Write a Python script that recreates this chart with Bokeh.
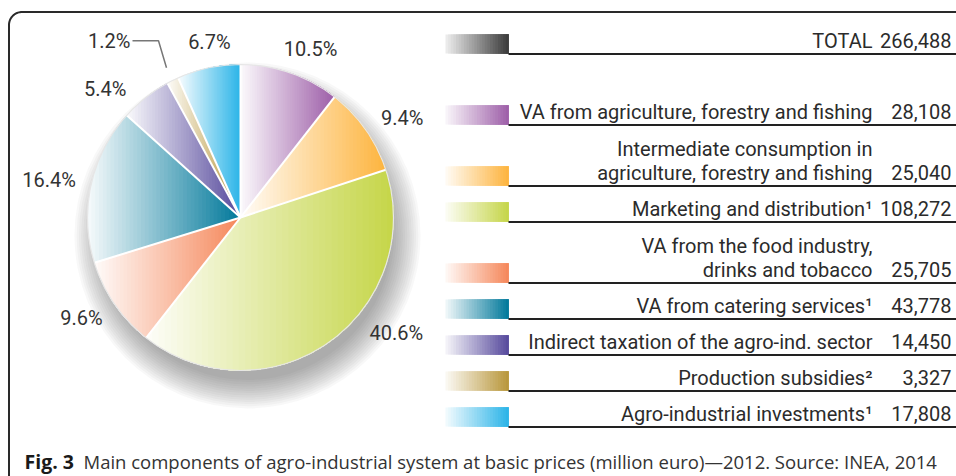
import math
from bokeh.plotting import figure
from bokeh.models import Range1d
from bokeh.core.properties import value
from bokeh.embed import file_html
from bokeh.resources import INLINE

# ---------------- data ----------------
categories = [
    "VA from agriculture, forestry and fishing",
    "Intermediate consumption in\nagriculture, forestry and fishing",
    "Marketing and distribution\u00b9",
    "VA from the food industry,\ndrinks and tobacco",
    "VA from catering services\u00b9",
    "Indirect taxation of the agro-ind. sector",
    "Production subsidies\u00b2",
    "Agro-industrial investments\u00b9",
]
values = [28108, 25040, 108272, 25705, 43778, 14450, 3327, 17808]
total_label = "TOTAL"
total_value = 266488
caption_bold = "Fig. 3"
caption_text = "Main components of agro-industrial system at basic prices (million euro)\u20142012. Source: INEA, 2014"

colors = ["#9d5ea8", "#fdb43e", "#c5d548", "#f5875a", "#00789a", "#56499c", "#b8963a", "#2ab4e8"]
total_color = "#3a3a3a"

# ---------------- layout ----------------
W, H = 956, 476
cx, cy, R = 240, 217, 153
label_offset_deg = [3.5, 3.4, -18.4, 2.3, -1.2, -8.0, 0.0, 2.0]
label_radius = [183, 190, 194, 188, 195, 187, 0, 179]
leader_index = 6
BASE_FIX = 0.33  # alphabetic baseline correction (fraction of font size)

p = figure(width=W, height=H, output_backend="svg", toolbar_location=None,
           x_range=Range1d(0, W), y_range=Range1d(H, 0),
           min_border=0, outline_line_color=None)
p.axis.visible = False
p.grid.visible = False
p.background_fill_color = "white"
p.border_fill_color = "white"


def mix(c, t):
    c = c.lstrip("#")
    r, g, b = int(c[0:2], 16), int(c[2:4], 16), int(c[4:6], 16)
    r = round(255 + (r - 255) * t)
    g = round(255 + (g - 255) * t)
    b = round(255 + (b - 255) * t)
    return "#%02x%02x%02x" % (r, g, b)


def mix2(c1, c2, t):
    a = c1.lstrip("#"); b = c2.lstrip("#")
    out = []
    for i in (0, 2, 4):
        v1 = int(a[i:i + 2], 16); v2 = int(b[i:i + 2], 16)
        out.append(round(v1 + (v2 - v1) * t))
    return "#%02x%02x%02x" % tuple(out)


def polar(theta_deg, r):
    t = math.radians(theta_deg)
    return cx + r * math.sin(t), cy - r * math.cos(t)


def clip_right_of(xs, ys, a):
    ox, oy = [], []
    n = len(xs)
    for i in range(n):
        x1, y1 = xs[i], ys[i]
        x2, y2 = xs[(i + 1) % n], ys[(i + 1) % n]
        in1, in2 = x1 >= a, x2 >= a
        if in1:
            ox.append(x1); oy.append(y1)
        if in1 != in2:
            t = (a - x1) / (x2 - x1)
            ox.append(a); oy.append(y1 + t * (y2 - y1))
    return ox, oy


# ---------------- outer frame ----------------
fr_x, fr_y, fr_r = 8.5, 11.5, 13
bx = [fr_x]
by = [H + 5]
for k in range(0, 21):
    a = math.radians(180 + 90 * k / 20)
    bx.append(fr_x + fr_r + fr_r * math.cos(a))
    by.append(fr_y + fr_r + fr_r * math.sin(a))
bx.append(W + 5); by.append(fr_y)
p.line(bx, by, line_color="#2a2a2a", line_width=2)

# ---------------- pie shadow ----------------
for k in range(14):
    rr = R + 20 - k * 2.2
    p.circle([cx + 7], [cy + 18], radius=rr, fill_color="#303030", fill_alpha=0.035, line_color=None)

# ---------------- pie slices with gradients ----------------
tot = sum(values)
cum = 0.0
mids = []
edges = []
N = 40
for i, v in enumerate(values):
    a0 = cum / tot * 360.0
    a1 = (cum + v) / tot * 360.0
    cum += v
    mids.append((a0 + a1) / 2)
    edges.append(a0)
    nseg = max(4, int((a1 - a0) / 1.5))
    xs = [cx]; ys = [cy]
    for k in range(nseg + 1):
        x, y = polar(a0 + (a1 - a0) * k / nseg, R)
        xs.append(x); ys.append(y)
    xmin, xmax = min(xs), max(xs)
    pxs, pys, cols = [], [], []
    for k in range(N):
        a = xmin + (xmax - xmin) * k / N
        qx, qy = clip_right_of(xs, ys, a)
        if len(qx) < 3:
            continue
        pxs.append(qx); pys.append(qy)
        cols.append(mix(colors[i], 0.03 + 0.97 * (k + 0.5) / N))
    p.patches(pxs, pys, fill_color=cols, line_color=None)

# separators
for a in edges:
    x, y = polar(a, R)
    p.line([cx, x], [cy, y], line_color="white", line_width=2)
p.circle([cx], [cy], radius=R, fill_color=None, line_color="#e6e6e6", line_width=1.2)

# percentage labels
PCT_FONT, PCT_SIZE = "Roboto", 20
pct = [round(v / tot * 100, 1) for v in values]
lx, ly, lt = [], [], []
for i in range(len(values)):
    if i == leader_index:
        continue
    x, y = polar(mids[i] + label_offset_deg[i], label_radius[i])
    lx.append(x); ly.append(y + 7 - BASE_FIX * PCT_SIZE); lt.append("%.1f%%" % pct[i])
p.text(lx, ly, text=lt, text_font=value(PCT_FONT), text_font_size="%dpx" % PCT_SIZE,
       text_color="#333333", text_align="center", text_baseline="alphabetic")

# leader for small slice
tx, ty = polar(mids[leader_index], R + 14)
ex, ey = tx - 8, ty - 27
p.line([tx, ex, ex - 26], [ty, ey, ey], line_color="#777777", line_width=1.5)
p.text([ex - 28], [ey + 7 - BASE_FIX * PCT_SIZE], text=["%.1f%%" % pct[leader_index]],
       text_font=value(PCT_FONT), text_font_size="%dpx" % PCT_SIZE, text_color="#333333",
       text_align="right", text_baseline="alphabetic")

# ---------------- legend table ----------------
sw_l, sw_r, sw_h = 445, 508, 19
lab_r, val_r, line_r = 872, 951, W + 2
LEG_FONT, LEG_SIZE = "Roboto", 20
row_lines = [total_label] + categories
row_vals = [total_value] + values
row_cols = [total_color] + colors
ybot = 53
ybots = []
for j, lab in enumerate(row_lines):
    nlines = lab.count("\n") + 1
    if j > 0:
        ybot += 36 if nlines == 1 else 61
        if j == 1:
            ybot += 35
    ybots.append(ybot)

for j, lab in enumerate(row_lines):
    yb = ybots[j]
    M = 24
    qs_l, qs_r, qs_t, qs_b, qcol = [], [], [], [], []
    for k in range(M):
        qs_l.append(sw_l + (sw_r - sw_l) * k / M)
        qs_r.append(sw_r); qs_t.append(yb - sw_h); qs_b.append(yb)
        t = (k + 0.5) / M
        if j == 0:
            qcol.append(mix2("#efefef", row_cols[j], t))
        else:
            qcol.append(mix(row_cols[j], 0.05 + 0.95 * t))
    p.quad(left=qs_l, right=qs_r, top=qs_t, bottom=qs_b, fill_color=qcol, line_color=None)
    p.line([sw_r, line_r], [yb + 0.5, yb + 0.5], line_color="#222222", line_width=1.8)
    parts = lab.split("\n")
    tx_, ty_ = [], []
    for m, part in enumerate(parts):
        tx_.append(lab_r)
        ty_.append(yb - 6 - 24 * (len(parts) - 1 - m) - BASE_FIX * LEG_SIZE)
    p.text(tx_, ty_, text=parts, text_font=value(LEG_FONT), text_font_size="%dpx" % LEG_SIZE,
           text_color="#2b2b2b", text_align="right", text_baseline="alphabetic")
    p.text([val_r], [yb - 6 - BASE_FIX * LEG_SIZE], text=["{:,}".format(row_vals[j])],
           text_font=value(LEG_FONT), text_font_size="%dpx" % LEG_SIZE, text_color="#2b2b2b",
           text_align="right", text_baseline="alphabetic")

# ---------------- caption ----------------
CAP_SIZE = 18.5
p.text([24], [467 - BASE_FIX * CAP_SIZE], text=[caption_bold], text_font=value("Open Sans"),
       text_font_style="bold", text_font_size="19.5px", text_color="#1a1a1a",
       text_align="left", text_baseline="alphabetic")
p.text([83], [467 - BASE_FIX * CAP_SIZE], text=[caption_text], text_font=value("Open Sans"),
       text_font_size="%.1fpx" % CAP_SIZE, text_color="#333333", text_align="left",
       text_baseline="alphabetic")

open("out.html", "w").write(file_html(p, INLINE))
